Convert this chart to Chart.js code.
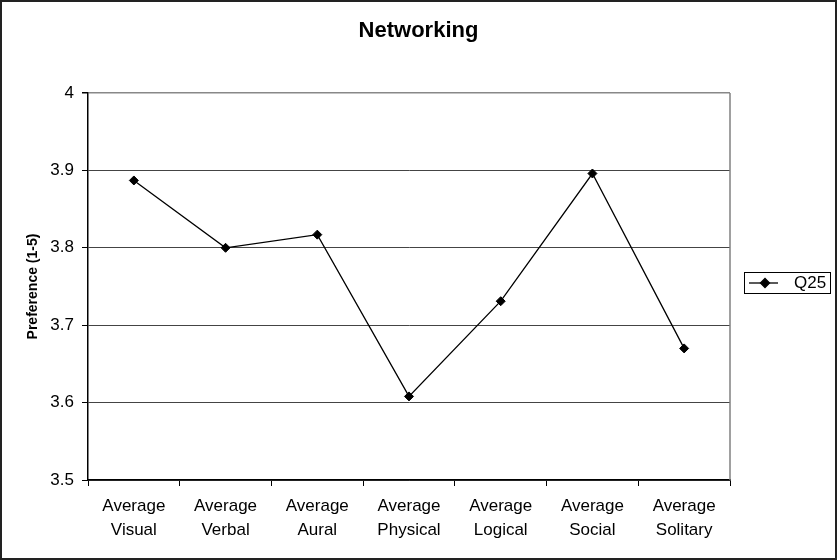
<!DOCTYPE html>
<html>
<head>
<meta charset="utf-8">
<title>Networking</title>
<script src="https://cdn.jsdelivr.net/npm/chart.js@4/dist/chart.umd.min.js"></script>
<style>
  html, body { margin: 0; padding: 0; background: #fff; }
  #wrap { width: 837px; height: 560px; }
</style>
</head>
<body>
<div id="wrap"><canvas id="chart" width="837" height="560"></canvas></div>
<script>
// Learning-style preference averages for question Q25
const chartTitle = 'Networking';
const categories = [
  ['Average', 'Visual'],
  ['Average', 'Verbal'],
  ['Average', 'Aural'],
  ['Average', 'Physical'],
  ['Average', 'Logical'],
  ['Average', 'Social'],
  ['Average', 'Solitary']
];
const seriesName = 'Q25';
const q25Values = [3.887, 3.800, 3.817, 3.608, 3.731, 3.896, 3.670];
const yTicks = [3.5, 3.6, 3.7, 3.8, 3.9, 4];

const FONT = "'Liberation Sans', Arial, Helvetica, sans-serif";

// White page, page-centred title, outer frame, right plot edge and boxed legend
const framePlugin = {
  id: 'frame',
  beforeDraw(chart) {
    const c = chart.ctx;
    c.save();
    c.fillStyle = '#fff';
    c.fillRect(0, 0, chart.width, chart.height);
    c.restore();
  },
  afterDraw(chart) {
    const c = chart.ctx;
    const a = chart.chartArea;
    c.save();
    // title, centred on the whole page
    c.fillStyle = '#000';
    c.font = 'bold 22px ' + FONT;
    c.textAlign = 'center';
    c.textBaseline = 'middle';
    c.fillText(chartTitle, chart.width / 2, 31);

    // right edge of plot area
    c.strokeStyle = '#808080';
    c.lineWidth = 1.5;
    c.beginPath();
    c.moveTo(a.right, a.top);
    c.lineTo(a.right, a.bottom);
    c.stroke();
    // outer frame
    c.strokeStyle = '#222';
    c.lineWidth = 2;
    c.strokeRect(1, 1, chart.width - 2, chart.height - 2);

    // legend box
    const ds = chart.data.datasets[0];
    const bx = a.right + 14, by = 272, bw = 86, bh = 21;
    c.fillStyle = '#fff';
    c.fillRect(bx, by, bw, bh);
    c.strokeStyle = '#000';
    c.lineWidth = 1;
    c.strokeRect(bx + 0.5, by + 0.5, bw, bh);
    const ly = by + bh / 2 + 0.5;
    c.strokeStyle = ds.borderColor;
    c.lineWidth = ds.borderWidth;
    c.beginPath();
    c.moveTo(bx + 5, ly);
    c.lineTo(bx + 34, ly);
    c.stroke();
    Chart.helpers.drawPoint(c, {
      pointStyle: 'rectRot', radius: ds.pointRadius, borderWidth: 1
    }, bx + 21, ly);
    c.fillStyle = '#000';
    c.fill();
    c.font = '17px ' + FONT;
    c.textBaseline = 'middle';
    c.textAlign = 'left';
    c.fillText(ds.label, bx + 50, ly);
    c.restore();
  }
};

new Chart(document.getElementById('chart'), {
  type: 'line',
  data: {
    labels: categories,
    datasets: [{
      label: seriesName,
      data: q25Values,
      borderColor: '#000',
      borderWidth: 1.3,
      tension: 0,
      fill: false,
      pointStyle: 'rectRot',
      pointRadius: 4.5,
      pointHoverRadius: 4.5,
      pointBackgroundColor: '#000',
      pointBorderColor: '#000',
      pointBorderWidth: 1
    }]
  },
  options: {
    responsive: false,
    animation: false,
    events: [],
    layout: { padding: { left: 0, right: 107, top: 93, bottom: 0 } },
    plugins: {
      legend: { display: false },
      tooltip: { enabled: false },
      title: { display: false }
    },
    scales: {
      x: {
        type: 'category',
        offset: true,
        afterFit(scale) { scale.height = 80; },
        grid: {
          offset: true,
          drawOnChartArea: false,
          drawTicks: true,
          tickLength: 6,
          tickColor: '#000'
        },
        border: { color: '#000', width: 1.5 },
        ticks: {
          color: '#000',
          padding: 9,
          autoSkip: false,
          maxRotation: 0,
          font: { family: FONT, size: 17, lineHeight: 1.37 }
        }
      },
      y: {
        min: yTicks[0],
        max: yTicks[yTicks.length - 1],
        afterFit(scale) { scale.width = 88; },
        afterBuildTicks(scale) { scale.ticks = yTicks.map(v => ({ value: v })); },
        grid: {
          color: ctx => (ctx.tick && ctx.tick.value === 4) ? '#888' : '#444',
          lineWidth: ctx => (ctx.tick && ctx.tick.value === 4) ? 1.5 : 1,
          tickLength: 6,
          tickColor: '#000'
        },
        border: { color: '#000', width: 1.5 },
        ticks: {
          color: '#000',
          padding: 8,
          font: { family: FONT, size: 17 },
          callback: v => String(Number(v.toFixed(1)))
        },
        title: {
          display: true,
          text: 'Preference (1-5)',
          color: '#000',
          font: { family: FONT, size: 14, weight: 'bold', lineHeight: 1.2 },
          padding: { top: 25, bottom: 0 }
        }
      }
    }
  },
  plugins: [framePlugin]
});
</script>
</body>
</html>
